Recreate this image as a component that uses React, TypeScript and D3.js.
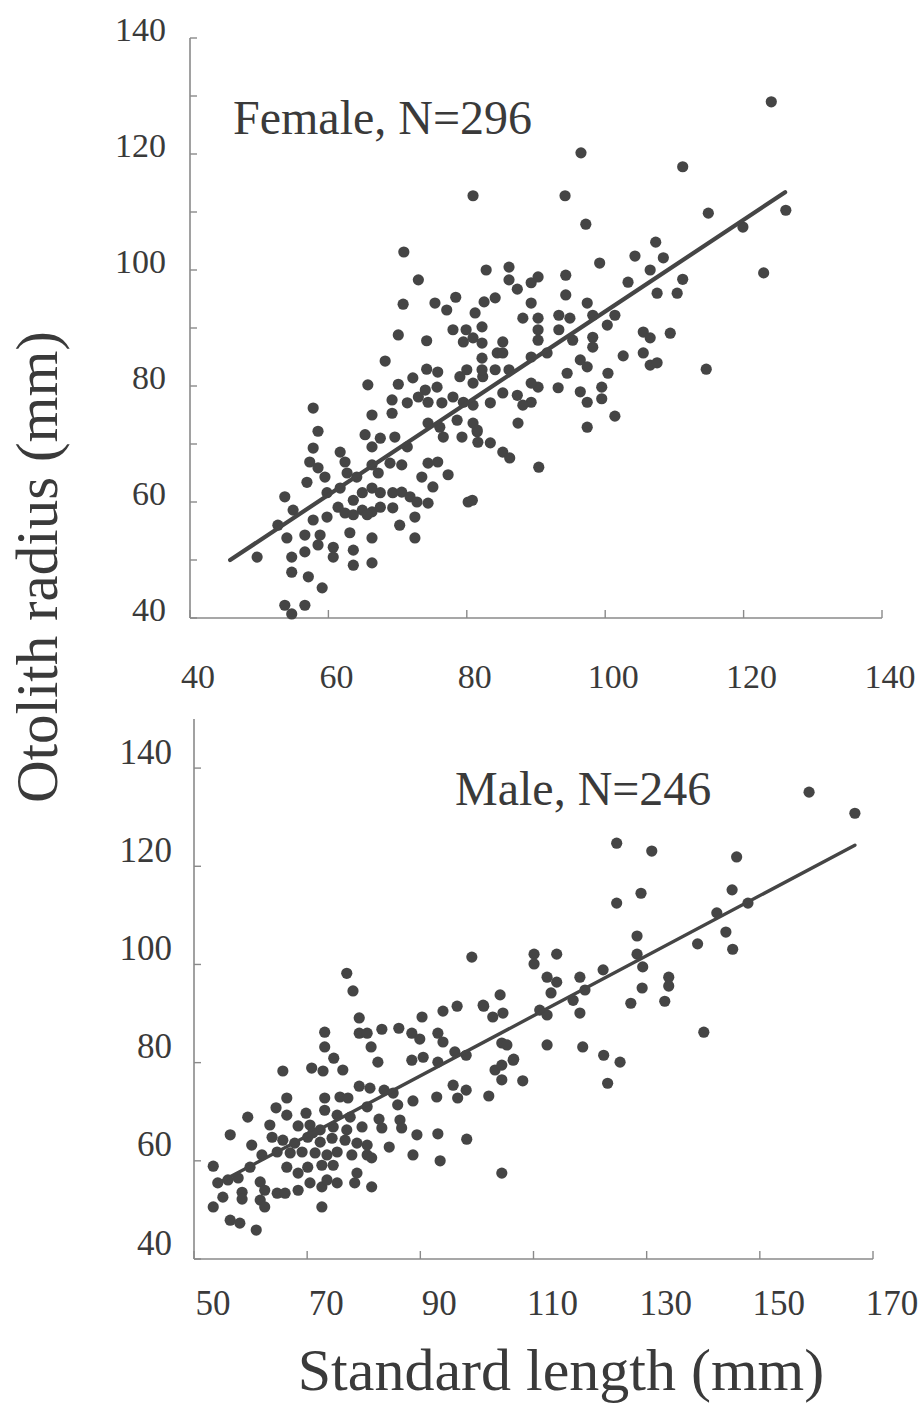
import React from "react";
import * as d3 from "d3";

// ---------- DATA ----------
const femaleSL = [73,70.8,75.4,77.1,78.4,81.2,82.5,84.1,70.1,74.2,78,79.9,82.2,79.5,80.9,68.2,74.2,75.8,82.2,84.4,65.7,70.1,72.2,74,75.7,79,80,80.9,82.3,84.1,69.2,71.4,73,74.4,76.4,78,79.5,80.9,83.4,66.3,69.2,57.8,58.5,74.4,76.1,76.6,79.3,81.5,81.6,83.4,65.3,67.5,69.6,71.4,57.8,61.7,57.3,58.5,59.5,62.4,64.1,66.3,68.9,70.6,67.2,74.4,75.8,73.5,77.3,56.9,53.7,54.9,52.7,49.7,59.8,61.7,62.7,59.8,57.8,56.6,58.8,61.4,62.4,63.6,64.9,66.3,67.5,69.3,70.6,71.8,72.8,64.9,66.3,67.5,69.3,63.6,65.6,74.4,72.5,75.1,70.3,72.5,66.3,63.1,54,56.6,58.5,54.7,60.7,60.7,63.6,63.6,66.3,54.7,57.1,59.1,53.7,56.6,54.7,80.2,78.6,80.9,66.3,70.9,
  124,96.5,111.2,80.9,94.2,97.2,114.9,126.1,119.9,122.9,107.3,104.3,108.4,99.2,106.5,111.2,103.3,107.5,110.4,86.1,82.8,86.1,87.3,89.3,90.3,94.3,94.3,89.3,97.4,88.1,90.3,93.3,94.9,90.3,90.3,93.3,98.2,101.4,100.3,98.2,98.2,95.3,105.5,106.5,109.4,105.5,106.5,107.5,114.6,102.6,100.4,96.4,97.4,94.5,93.2,96.4,97.4,99.5,99.5,101.4,97.4,90.4,90.3,89.3,89.3,88.1,87.3,85.2,86.1,85.2,85.2,82.2,82.2,87.4,81.5,85.2,86.2,80.8,89.3,91.6];
const femaleOR = [98.3,94.1,94.3,93.1,95.3,92.6,94.5,95.2,88.8,87.8,89.7,89.7,90.2,87.6,88.3,84.3,82.9,82.4,84.8,85.7,80.2,80.3,81.4,79.3,79.8,81.6,82.8,80.5,81.6,82.8,77.6,77.1,78.1,77.2,77.1,78.1,77.2,76.7,77.1,75,75.3,76.2,72.2,73.6,72.9,71.2,71.2,72.1,70.3,70.2,71.6,71,71.2,69.5,69.3,68.6,66.9,65.9,64.3,66.9,64.3,66.4,66.7,66.4,65,66.7,66.9,64.3,64.7,63.4,60.9,58.6,56,50.5,61.6,62.4,65,57.4,56.9,54.3,54.3,59.1,58.1,60.3,61.6,62.4,61.6,61.6,61.7,60.9,60,58.6,58.3,59.1,59,57.8,57.8,59.8,57.4,62.6,56,53.8,53.8,54.7,53.8,51.4,52.6,50.5,52.2,50.5,51.7,49.1,49.5,47.9,47.1,45.2,42.2,42.2,40.7,60,74.1,73.6,69.5,103.1,
  129,120.2,117.8,112.8,112.8,107.9,109.8,110.3,107.4,99.5,104.8,102.4,102.1,101.2,100,98.4,97.9,96,96,100.5,100,98.3,96.7,97.8,98.8,99.1,95.7,94.3,94.3,91.7,91.7,92.2,91.7,89.7,87.9,89.7,92.2,92.2,90.5,88.4,86.7,87.9,89.3,88.3,89.1,85.7,83.6,84,82.9,85.2,82.2,84.5,83.3,82.2,79.7,79,77.2,79.8,77.8,74.8,72.9,66,79.8,80.5,77.2,76.7,78.4,78.8,82.8,85.7,87.6,87.4,82.8,73.6,72.4,68.6,67.6,60.3,85,85.7];

const maleSL = [79.2,73.1,79.2,80.6,83.2,86.2,88.5,89.9,90.3,94,96.5,93.1,94,101.2,102.8,104.6,73.1,74.7,81.3,82.5,88.5,90.5,93.1,96.1,98.1,104.4,106.4,103.2,104.4,65.7,70.8,72.8,76.3,66.4,64.5,66.4,59.5,56.4,73.1,75.8,77.2,79.2,81.1,83.6,85.2,88.7,86,92.9,95.8,98.1,96.6,102.1,69.8,73.1,75.3,77.6,80.6,82.7,86.4,68.4,70.5,72.3,74.6,77,79.7,83.2,86.7,89.4,93.1,98.2,63.4,63.8,65.7,67.8,70.1,72.3,74.4,76.7,78.8,80.6,60.2,62,64.7,67,69.1,71.4,73.5,75.3,77.9,80.6,84.5,81.4,88.7,93.5,104.4,53.4,54.2,56,57.8,59.9,61.7,55.1,58.5,62.5,64.7,66.1,68.4,70.5,72.6,73.5,75.3,78.4,78.8,81.4,68.4,66.4,70.1,72.6,74.6,53.4,58.5,61.7,62.5,56.4,58.1,61,72.6,71,
  99.1,77,78.1,104.1,101.1,
  158.7,166.8,124.7,130.9,145.9,124.7,129,145.1,142.4,147.9,128.3,139,144,145.2,128.3,129.3,129.2,133.9,133.9,133.2,127.2,140.1,122.3,118.2,119.1,114.1,110.1,110.1,112.4,114.1,113.1,117,118.2,111.1,112.4,112.4,118.7,122.4,125.3,123.1,105.3,106.5,104.4,108.1];
const maleOR = [89.1,86.2,86,86,86.8,87,86,84.8,89.3,90.5,91.5,86,84.2,91.5,89.3,90.1,83.2,80.9,83.2,80.1,80.5,81.1,80.1,82.2,81.5,84,80.5,78.5,76.5,78.3,78.9,78.3,78.5,72.8,70.8,69.3,68.9,65.3,72.8,73,72.8,75.2,74.8,74.4,73.8,72.2,71.4,73,75.4,74.4,72.8,73.2,69.7,70.3,69.3,68.9,71,68.5,68.3,67.1,67.3,66.3,66.9,66.3,66.9,66.7,66.7,65.3,65.5,64.4,67.3,64.8,64.2,63.6,64.8,63.8,64.6,64.2,63.6,63.2,63.2,61.2,61.8,61.6,61.8,61.6,61.2,61.8,61.2,61.2,62.8,60.6,61.2,60,57.5,58.9,55.5,56.1,56.5,58.7,55.7,52.6,53.6,54,53.4,53.4,54,55.5,54.7,56.1,55.5,55.5,57.5,54.7,57.5,58.7,58.7,59.1,59.1,50.6,52.2,52,50.6,47.9,47.3,45.9,50.6,65.7,
  101.5,98.2,94.6,93.8,91.7,
  135.1,130.8,124.7,123.1,121.9,112.5,114.5,115.2,110.5,112.5,105.8,104.2,106.6,103.1,102.1,99.5,95.2,97.4,95.6,92.5,92.1,86.2,98.9,97.4,94.8,102.1,102.1,100.1,97.4,96.4,94.2,92.7,90.1,90.7,89.7,83.6,83.2,81.5,80.1,75.8,83.6,80.7,79.5,76.3];

// regression line end points (standard length, otolith radius)
const femaleFitSL = [45.8, 126];
const femaleFitOR = [50, 113.4];
const maleFitSL = [53.7, 166.8];
const maleFitOR = [55.1, 124.3];

// axes
const femaleXTicks = [40, 60, 80, 100, 120, 140];
const femaleYLabels = [40, 60, 80, 100, 120, 140];
const femaleYTicks = [40, 50, 60, 70, 80, 90, 100, 110, 120, 130, 140];
const maleXTicks = [50, 70, 90, 110, 130, 150, 170];
const maleYTicks = [40, 60, 80, 100, 120, 140];

const femaleLabel = "Female, N=296";
const maleLabel = "Male, N=246";
const yTitle = "Otolith radius (mm)";
const xTitle = "Standard length (mm)";

// ---------- STYLE ----------
const INK = "#454545";
const AXIS = "#8a8a8a";
const TXT = "#3a3a3a";
const FONT = "'Liberation Serif', 'Times New Roman', serif";

function Panel(props: any) {
  const {
    sl, or, fitSL, fitOR, x, y, xTicks, yTicks, yLabels, label, labelX, labelY,
    xLabDx, xLabY, yLabDy, yLabRight, tickFont, lineW, yMinorTicks,
  } = props;
  const [x0, x1] = x.range();
  const [y0, y1] = y.range();
  const line = d3.line<number>().x((d: number) => x(fitSL[d])).y((d: number) => y(fitOR[d]));
  return (
    <g>
      {/* axes */}
      <line x1={x0} x2={x0} y1={y0} y2={y1} stroke={AXIS} strokeWidth={1.6} />
      <line x1={x0} x2={x1} y1={y0} y2={y0} stroke={AXIS} strokeWidth={1.6} />
      {(yMinorTicks || yTicks).map((t: number) => (
        <line key={"yt" + t} x1={x0} x2={x0 + 7} y1={y(t)} y2={y(t)} stroke={AXIS} strokeWidth={1.4} />
      ))}
      {xTicks.map((t: number) => (
        <line key={"xt" + t} x1={x(t)} x2={x(t)} y1={y0} y2={y0 - 8} stroke={AXIS} strokeWidth={1.4} />
      ))}
      {yLabels.map((t: number) => (
        <text key={"yl" + t} x={yLabRight} y={y(t) - yLabDy} textAnchor="end" dominantBaseline="central"
          fontSize={tickFont} fill={TXT} fontFamily={FONT}>{t}</text>
      ))}
      {xTicks.map((t: number) => (
        <text key={"xl" + t} x={x(t) + xLabDx} y={xLabY} textAnchor="middle"
          fontSize={tickFont} fill={TXT} fontFamily={FONT}>{t}</text>
      ))}
      {/* points */}
      {sl.map((v: number, i: number) => (
        <circle key={"p" + i} cx={x(v)} cy={y(or[i])} r={5.6} fill={INK} />
      ))}
      {/* fit line */}
      <path d={line([0, 1]) || ""} stroke={INK} strokeWidth={lineW} fill="none" strokeLinecap="round" />
      <text x={labelX} y={labelY} fontSize={48} fill={TXT} fontFamily={FONT}>{label}</text>
    </g>
  );
}

export default function App() {
  const xTop = d3.scaleLinear().domain([40, 140]).range([190, 882]);
  const yTop = d3.scaleLinear().domain([40, 140]).range([618, 38]);
  const xBot = d3.scaleLinear().domain([50, 170]).range([194, 873]);
  const yBot = d3.scaleLinear().domain([40, 150]).range([1259, 719]);
  return (
    <svg width={922} height={1409} style={{ position: "absolute", left: 0, top: 0, background: "#fff" }}>
      <rect x={0} y={0} width={922} height={1409} fill="#fff" />
      <Panel sl={femaleSL} or={femaleOR} fitSL={femaleFitSL} fitOR={femaleFitOR}
        x={xTop} y={yTop} xTicks={femaleXTicks} yTicks={femaleYTicks} yMinorTicks={femaleYTicks}
        yLabels={femaleYLabels} label={femaleLabel} labelX={233} labelY={134}
        xLabDx={8} xLabY={688} yLabDy={9} yLabRight={166} tickFont={34} lineW={4.2} />
      <Panel sl={maleSL} or={maleOR} fitSL={maleFitSL} fitOR={maleFitOR}
        x={xBot} y={yBot} xTicks={maleXTicks} yTicks={maleYTicks}
        yLabels={maleYTicks} label={maleLabel} labelX={455} labelY={805}
        xLabDx={19} xLabY={1315} yLabDy={16} yLabRight={172} tickFont={35} lineW={3.4} />
      <text transform="translate(57,567) rotate(-90)" textAnchor="middle" fontSize={59}
        fill={TXT} fontFamily={FONT}>{yTitle}</text>
      <text x={561} y={1390} textAnchor="middle" fontSize={60} fill={TXT} fontFamily={FONT}>{xTitle}</text>
    </svg>
  );
}
